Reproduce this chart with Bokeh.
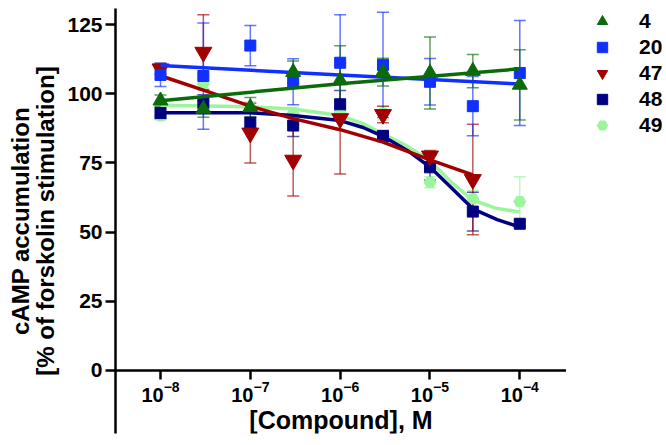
from bokeh.plotting import figure
from bokeh.layouts import row
from bokeh.models import (ColumnDataSource, Range1d, FixedTicker, LogTicker, LogTickFormatter,
                          Whisker, TeeHead, Legend, LegendItem)
from bokeh.embed import file_html
from bokeh.resources import INLINE

# ---------------- data ----------------
conc = [1e-8, 3e-8, 1e-7, 3e-7, 1e-6, 3e-6, 1e-5, 3e-5, 1e-4]

mean_4 = [97.5, 94.5, 95.1, 107.8, 104.8, 107.8, 107.5, 108.2, 103.2]
sem_4 = [2, 3, 3.5, 4, 12.5, 5, 13, 6, 12.7]

mean_20 = [106.8, 106.4, 117.4, 104.3, 111.2, 110.4, 104.3, 95.5, 107.5]
sem_20 = [4.2, 19.2, 7.3, 8.3, 17.3, 19, 8.4, 10.7, 19]

conc_47 = [1e-8, 3e-8, 1e-7, 3e-7, 1e-6, 3e-6, 1e-5, 3e-5]
mean_47 = [109, 115, 85.8, 76, 91, 92.5, 77.5, 69]
sem_47 = [2, 13.5, 10.8, 13, 20, 3, 2, 20]

mean_48 = [93, 96.6, 89.5, 88.5, 96.2, 84.7, 73.4, 57.4, 53]
sem_48 = [2, 3, 2, 4, 5, 2, 4.6, 7, 1]

mean_49 = [92, 103.5, 95, 93, 93, 93, 68, 62, 61]
sem_49 = [1.5, 2, 2, 2, 2, 2.5, 2, 3, 9]

# fitted curves
fit_x_4 = [1e-8, 1e-6, 1e-4]
fit_y_4 = [97.5, 103.6, 109]
fit_x_20 = [1e-8, 1e-6, 1e-4]
fit_y_20 = [110.2, 106.8, 103.5]
fit_x_47 = [1e-8, 3e-8, 1e-7, 3e-7, 1e-6, 3e-6, 1e-5, 3e-5]
fit_y_47 = [106.5, 101.3, 95.5, 91, 87, 82.5, 76.1, 70.7]
fit_x_48 = [1e-8, 1e-7, 3e-7, 1e-6, 1.8e-6, 3e-6, 5.6e-6, 1e-5, 1.8e-5, 3e-5, 5.6e-5, 1e-4]
fit_y_48 = [93.1, 93.1, 92.1, 90.3, 87.8, 84.6, 79.5, 73.5, 65.5, 58.4, 54.5, 51.8]
fit_x_49 = [1e-8, 1e-7, 3e-7, 1e-6, 1.8e-6, 3e-6, 5.6e-6, 1e-5, 1.8e-5, 3e-5, 5.6e-5, 1e-4]
fit_y_49 = [95.8, 95.3, 94.5, 92.1, 89.2, 85.5, 81, 75.8, 67.5, 61.5, 58.5, 57.3]

labels = ["4", "20", "47", "48", "49"]
colors = ["#0b6b0b", "#1030ff", "#a00000", "#000080", "#9cf59c"]
markers = ["triangle", "square", "inverted_triangle", "square", "hex"]
sizes = [15, 11, 17, 11, 12]

y_ticks = [0, 25, 50, 75, 100, 125]

FONT = "Liberation Sans"

p = figure(width=566, height=445, x_axis_type="log",
           x_range=Range1d(10 ** -8.501, 10 ** -3.48),
           y_range=Range1d(-22.8, 130.8),
           output_backend="svg", toolbar_location=None,
           min_border_left=115, min_border_top=8, min_border_bottom=12,
           min_border_right=0)
p.xgrid.visible = False
p.ygrid.visible = False
p.outline_line_color = None
p.background_fill_color = "white"
p.border_fill_color = "white"

# x axis placed at y = 0
xa = p.xaxis[0]
xa.fixed_location = 0
xa.ticker = LogTicker(desired_num_ticks=6, num_minor_ticks=0)
xa.formatter = LogTickFormatter(ticker=xa.ticker)
xa.axis_label = "[Compound], M"
xa.axis_label_text_font = FONT
xa.axis_label_text_font_style = "bold"
xa.axis_label_text_font_size = "25px"
xa.axis_label_text_color = "black"
xa.axis_label_standoff = 0
xa.major_label_text_font = FONT
xa.major_label_text_font_style = "bold"
xa.major_label_text_font_size = "20px"
xa.major_label_text_color = "black"
xa.major_label_standoff = 2
xa.axis_line_color = "black"
xa.major_tick_line_color = "black"
xa.axis_line_width = 2.5
xa.major_tick_line_width = 2.5
xa.major_tick_out = 9
xa.major_tick_in = 0
xa.minor_tick_line_color = None

ya = p.yaxis[0]
ya.ticker = FixedTicker(ticks=y_ticks)
ya.axis_label = "cAMP accumulation\n[% of forskolin stimulation]"
ya.axis_label_text_font = FONT
ya.axis_label_text_font_style = "bold"
ya.axis_label_text_font_size = "24px"
ya.axis_label_text_color = "black"
ya.axis_label_text_line_height = 0.95
ya.axis_label_standoff = 5
ya.major_label_text_font = FONT
ya.major_label_text_font_style = "bold"
ya.major_label_text_font_size = "21px"
ya.major_label_text_color = "black"
ya.major_label_standoff = 3
ya.axis_line_color = "black"
ya.major_tick_line_color = "black"
ya.axis_line_width = 2.5
ya.major_tick_line_width = 2.5
ya.major_tick_out = 10
ya.major_tick_in = 0
ya.minor_tick_line_color = None

series = [
    (conc, mean_4, sem_4, fit_x_4, fit_y_4),
    (conc, mean_20, sem_20, fit_x_20, fit_y_20),
    (conc_47, mean_47, sem_47, fit_x_47, fit_y_47),
    (conc, mean_48, sem_48, fit_x_48, fit_y_48),
    (conc, mean_49, sem_49, fit_x_49, fit_y_49),
]

draw_order = [4, 3, 2, 1, 0]
for i in draw_order:
    xs, ys, es, fx, fy = series[i]
    c = colors[i]
    src = ColumnDataSource(dict(x=xs, y=ys,
                                upper=[a + b for a, b in zip(ys, es)],
                                lower=[a - b for a, b in zip(ys, es)]))
    w = Whisker(base="x", upper="upper", lower="lower", source=src, dimension="height",
                line_color=c, line_width=1.5, line_alpha=0.65,
                upper_head=TeeHead(size=12, line_color=c, line_width=1.5, line_alpha=0.65),
                lower_head=TeeHead(size=12, line_color=c, line_width=1.5, line_alpha=0.65))
    p.add_layout(w)
    p.line(fx, fy, line_color=c, line_width=3.5)
    p.scatter("x", "y", source=src, marker=markers[i], size=sizes[i],
              fill_color=c, line_color=c)

# ---------------- legend panel ----------------
# the legend figure shows the same series; its range is set away from the data so
# only the legend swatches are visible
lf = figure(width=100, height=445, output_backend="svg", toolbar_location=None,
            x_axis_location=None, y_axis_location=None,
            x_range=Range1d(1, 2), y_range=Range1d(1000, 1001),
            min_border=0)
lf.xgrid.visible = False
lf.ygrid.visible = False
lf.outline_line_color = None
lf.background_fill_color = "white"
lf.border_fill_color = "white"

items = []
for i in range(5):
    xs, ys = series[i][0], series[i][1]
    r = lf.scatter(x=xs, y=ys, marker=markers[i], fill_color=colors[i], line_color=colors[i])
    items.append(LegendItem(label=labels[i], renderers=[r], index=0))

legend = Legend(items=items, location="top_left", orientation="vertical",
                padding=0, margin=0, spacing=0,
                glyph_width=72, glyph_height=26, label_height=20, label_standoff=1,
                label_text_font=FONT, label_text_font_style="bold",
                label_text_font_size="21px", label_text_color="black",
                border_line_alpha=0, background_fill_alpha=0)
lf.add_layout(legend)

layout = row(p, lf)
open("out.html", "w").write(file_html(layout, INLINE))
